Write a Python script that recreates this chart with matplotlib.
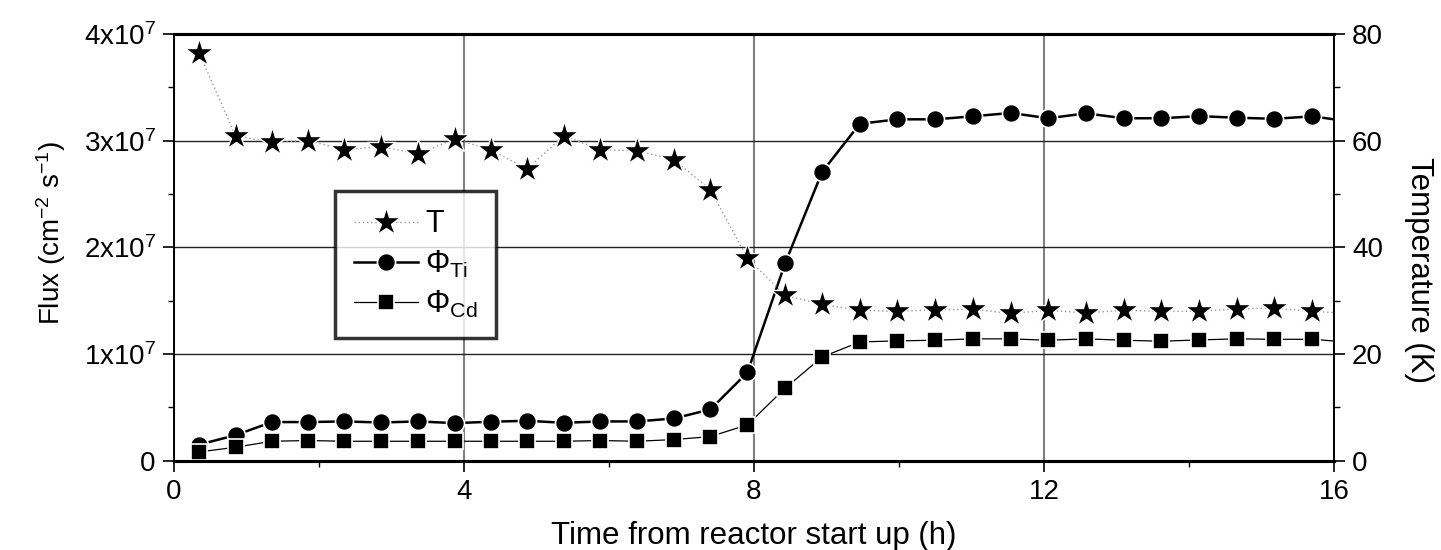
import numpy as np
import matplotlib
matplotlib.use("Agg")
import matplotlib.pyplot as plt
from matplotlib.ticker import FixedLocator, MultipleLocator

plt.rcParams['font.family'] = ['Liberation Sans', 'DejaVu Sans']
plt.rcParams['mathtext.fontset'] = 'custom'
plt.rcParams['mathtext.rm'] = 'Liberation Sans'
plt.rcParams['mathtext.it'] = 'Liberation Sans'
plt.rcParams['mathtext.default'] = 'regular'

# time (h) of each measurement
time_h = [0.35, 0.85, 1.35, 1.85, 2.35, 2.86, 3.37, 3.87, 4.37, 4.87, 5.38,
          5.88, 6.39, 6.90, 7.40, 7.91, 8.43, 8.94, 9.46, 9.98, 10.50, 11.02,
          11.54, 12.06, 12.58, 13.10, 13.62, 14.14, 14.66, 15.18, 15.70, 16.22]

# temperature (K)
temp_K = [76.4, 60.9, 59.7, 60.0, 58.3, 58.9, 57.5, 60.3, 58.3, 54.7, 60.9,
          58.3, 58.1, 56.4, 50.8, 38.0, 31.0, 29.3, 28.2, 28.0, 28.3, 28.4,
          27.6, 28.2, 27.7, 28.2, 28.0, 28.0, 28.5, 28.6, 28.0, 27.6]

# flux, units of 1e7 cm-2 s-1
phi_ti = [0.151, 0.239, 0.362, 0.362, 0.368, 0.358, 0.368, 0.352, 0.365, 0.374, 0.355,
          0.368, 0.368, 0.396, 0.481, 0.827, 1.85, 2.706, 3.158, 3.20, 3.20, 3.228,
          3.26, 3.21, 3.256, 3.21, 3.21, 3.23, 3.215, 3.205, 3.228, 3.18]
phi_cd = [0.082, 0.126, 0.182, 0.189, 0.182, 0.182, 0.182, 0.182, 0.182, 0.182, 0.182,
          0.189, 0.182, 0.198, 0.226, 0.336, 0.679, 0.972, 1.113, 1.123, 1.129, 1.142,
          1.142, 1.129, 1.142, 1.129, 1.12, 1.132, 1.142, 1.138, 1.138, 1.11]

flux_ticks = [0, 1e7, 2e7, 3e7, 4e7]
flux_labels = ['0', '1x10$^{7}$', '2x10$^{7}$', '3x10$^{7}$', '4x10$^{7}$']

fig = plt.figure(figsize=(14.41, 5.5), dpi=100)
ax = fig.add_axes([0.1207, 0.1624, 0.8050, 0.7758])
ax2 = ax.twinx()

t = np.array(time_h)
ti_line, = ax.plot(t, np.array(phi_ti) * 1e7, color='black', lw=1.8, marker='o',
                   ms=13, mfc='black', mec='white', mew=1.2, zorder=3,
                   label=r'$\Phi_{Ti}$')
cd_line, = ax.plot(t, np.array(phi_cd) * 1e7, color='black', lw=0.9, marker='s',
                   ms=11, mfc='black', mec='white', mew=1.2, zorder=3,
                   label=r'$\Phi_{Cd}$')
t_line, = ax2.plot(t, temp_K, color='#999999', lw=1.0, ls=(0, (1, 2)), marker='*',
                   ms=21, mfc='black', mec='white', mew=1.0, zorder=3, label='T')

ax.set_xlim(0, 16)
ax.set_ylim(0, 4e7)
ax2.set_ylim(0, 80)

ax.xaxis.set_major_locator(MultipleLocator(4))
ax.xaxis.set_minor_locator(MultipleLocator(2))
ax.yaxis.set_major_locator(FixedLocator(flux_ticks))
ax.yaxis.set_minor_locator(MultipleLocator(0.5e7))
ax.set_yticklabels(flux_labels)
ax2.yaxis.set_major_locator(MultipleLocator(20))
ax2.yaxis.set_minor_locator(MultipleLocator(10))

for a in (ax, ax2):
    a.tick_params(which='major', direction='out', length=8, width=1.2,
                  labelsize=20, pad=5)
    a.tick_params(which='minor', direction='out', length=4, width=1.0)
    a.spines['top'].set_linewidth(2.2)
    a.spines['bottom'].set_linewidth(2.2)
    a.spines['left'].set_linewidth(1.2)
    a.spines['right'].set_linewidth(1.2)

ax.xaxis.grid(True, which='major', color='#808080', lw=1.5)
ax.yaxis.grid(True, which='major', color='#222222', lw=1.0)
ax.set_axisbelow(True)

ax.set_xlabel('Time from reactor start up (h)', fontsize=22.5, labelpad=12)
ax.set_ylabel('Flux (cm$^{-2}$ s$^{-1}$)', fontsize=20)
ax.yaxis.set_label_coords(-0.091, 0.534)
ax2.set_ylabel('Temperature (K)', fontsize=22.5, rotation=270)
ax2.yaxis.set_label_coords(1.086, 0.447)

leg = ax2.legend(handles=[t_line, ti_line, cd_line], loc='upper left',
                 bbox_to_anchor=(0.139, 0.632), fontsize=22, frameon=True,
                 fancybox=False, edgecolor='black', handlelength=2.1,
                 borderpad=0.6, labelspacing=0.3, handletextpad=0.25,
                 borderaxespad=0)
leg.get_frame().set_linewidth(2.5)
leg.set_zorder(10)

fig.savefig('out.png', dpi=100)
